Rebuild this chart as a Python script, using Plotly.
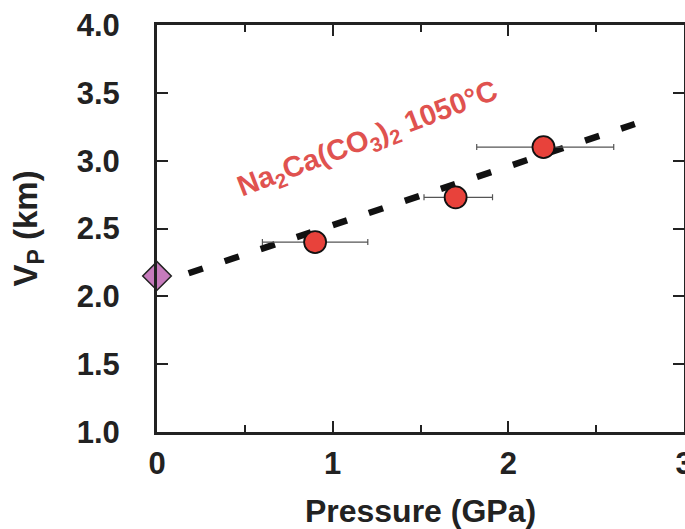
import plotly.graph_objects as go

# Data
pressure = [0.9, 1.7, 2.2]
vp = [2.40, 2.73, 3.10]
p_err_minus = [0.3, 0.18, 0.38]
p_err_plus = [0.3, 0.21, 0.40]

ref_p = [0.0]
ref_vp = [2.15]

fit_p = [0.18, 2.72]
fit_vp = [2.17, 3.27]

x_tickvals = [0, 1, 2, 3]
y_tickvals = [1.0, 1.5, 2.0, 2.5, 3.0, 3.5, 4.0]
y_ticktext = ["1.0", "1.5", "2.0", "2.5", "3.0", "3.5", "4.0"]

label_text = "Na<sub>2</sub>Ca(CO<sub>3</sub>)<sub>2</sub> 1050°C"

FONT = "Liberation Sans, Arial, sans-serif"

fig = go.Figure()

fig.add_trace(go.Scatter(
    x=fit_p, y=fit_vp, mode="lines",
    line=dict(color="#111111", width=6.5, dash="15px,23px"),
    hoverinfo="skip", showlegend=False,
))

fig.add_trace(go.Scatter(
    x=pressure, y=vp, mode="markers",
    marker=dict(symbol="circle", size=22, color="#e8423b",
                line=dict(color="#111111", width=1.8)),
    error_x=dict(type="data", symmetric=False, array=p_err_plus,
                 arrayminus=p_err_minus, color="#555555", thickness=1.2, width=3),
    showlegend=False, cliponaxis=False,
))

fig.add_trace(go.Scatter(
    x=ref_p, y=ref_vp, mode="markers",
    marker=dict(symbol="diamond", size=22, color="#c77bbd",
                line=dict(color="#222222", width=1.5)),
    showlegend=False, cliponaxis=False,
))

fig.add_annotation(
    x=1.2, y=3.15, xref="x", yref="y", text=label_text, showarrow=False,
    textangle=-21,
    font=dict(family=FONT, size=29, color="#e0524f", weight="bold"),
)

fig.update_xaxes(
    range=[0, 3], tickvals=x_tickvals, ticktext=[str(v) for v in x_tickvals],
    ticks="inside", ticklen=11, tickwidth=2, tickcolor="#222222",
    minor=dict(dtick=0.5, ticks="inside", ticklen=7, tickwidth=1.5, tickcolor="#222222"),
    showline=True, linewidth=3, linecolor="#222222", mirror="ticks",
    showgrid=False, zeroline=False, automargin=False,
    ticklabeloverflow="allow",
    tickfont=dict(family=FONT, size=31, color="#222222", weight="bold"),
    ticklabelstandoff=2,
    title=dict(text="Pressure (GPa)", standoff=20,
               font=dict(family=FONT, size=32, color="#222222", weight="bold")),
)

fig.update_yaxes(
    range=[1, 4], tickvals=y_tickvals, ticktext=y_ticktext,
    ticks="inside", ticklen=11, tickwidth=2, tickcolor="#222222",
    showline=True, linewidth=3, linecolor="#222222", mirror="ticks",
    showgrid=False, zeroline=False, automargin=False,
    ticklabeloverflow="allow",
    tickfont=dict(family=FONT, size=31, color="#222222", weight="bold"),
    ticklabelstandoff=28,
    title=dict(text="V<sub>P</sub> (km)", standoff=30,
               font=dict(family=FONT, size=33, color="#222222", weight="bold")),
)

fig.update_layout(
    width=685, height=529,
    margin=dict(l=157, r=1, t=25, b=97),
    paper_bgcolor="white", plot_bgcolor="white",
    showlegend=False,
)

fig.write_html("out.html", config={"displayModeBar": False},
               post_script="document.body.style.margin='0';")
